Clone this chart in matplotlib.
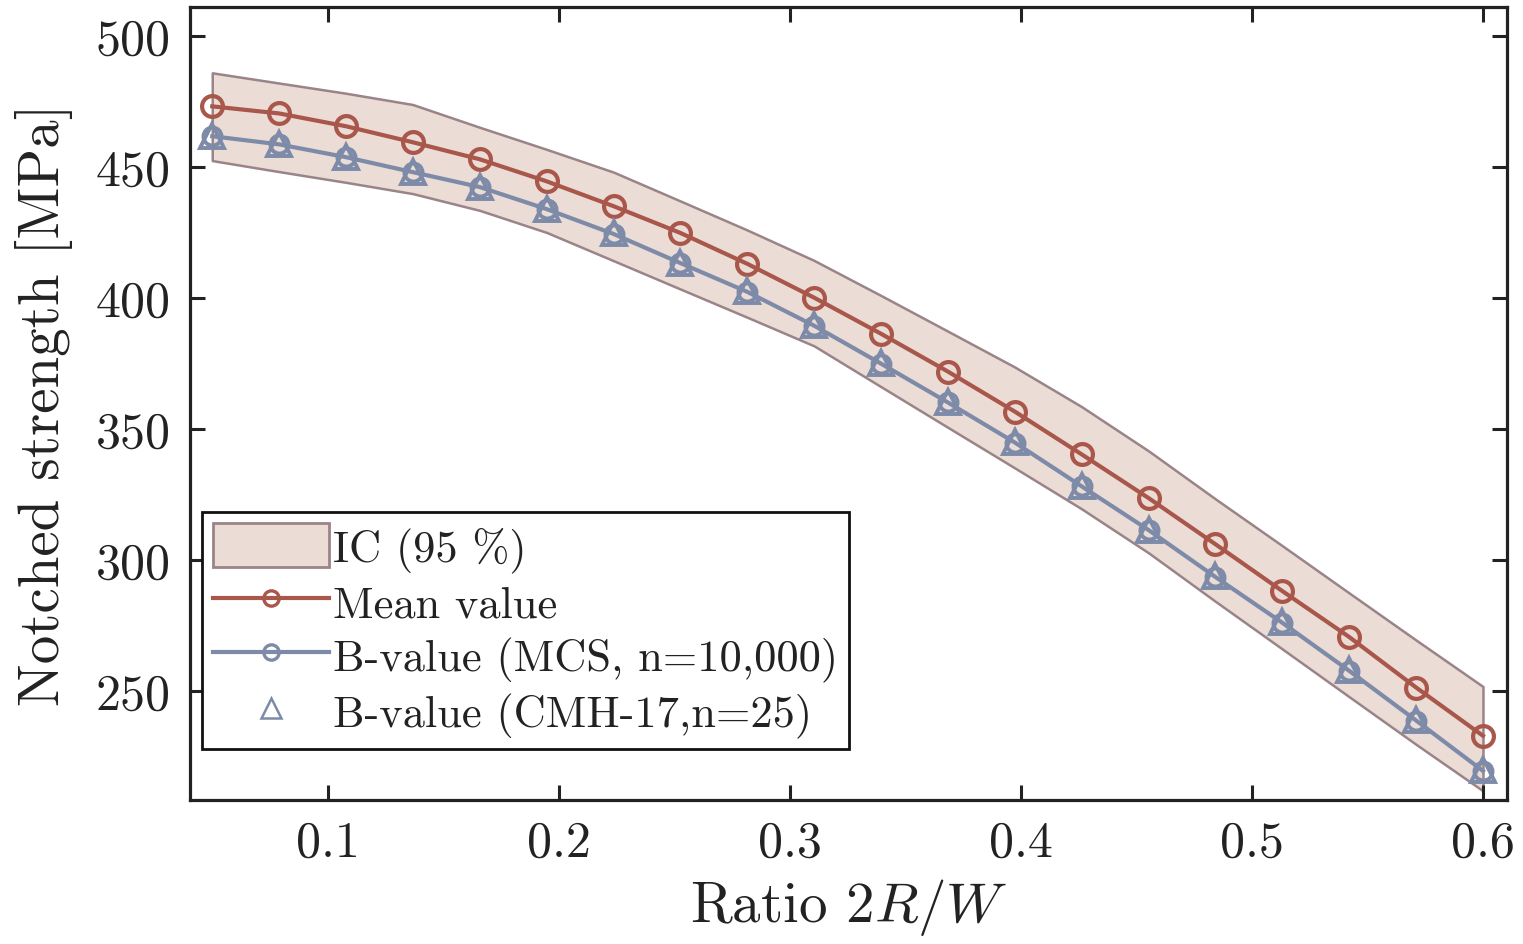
import matplotlib
matplotlib.use('Agg')
import numpy as np
from matplotlib import pyplot as plt
from matplotlib.patches import Patch
from matplotlib.lines import Line2D

# Данные
ratio = [0.05, 0.0789, 0.1079, 0.1368, 0.1658, 0.1947, 0.2237, 0.2526, 0.2816, 0.3105,
         0.3395, 0.3684, 0.3974, 0.4263, 0.4553, 0.4842, 0.5132, 0.5421, 0.5711, 0.60]
mean_value = [473.0, 470.3, 465.4, 459.3, 452.8, 444.4, 434.9, 424.7, 412.9, 400.0,
              386.2, 371.8, 356.5, 340.2, 323.5, 305.9, 288.0, 270.5, 251.2, 232.8]
b_value_mcs = [461.6, 458.5, 453.6, 447.9, 442.2, 433.8, 424.3, 413.2, 402.2, 389.3,
               374.8, 360.0, 344.7, 328.0, 311.3, 293.4, 275.9, 257.6, 238.6, 219.4]
b_value_cmh = [461.8, 458.6, 453.8, 448.1, 442.4, 434.0, 424.5, 413.4, 402.4, 389.5,
               375.0, 360.2, 344.9, 328.2, 311.5, 293.6, 276.1, 257.8, 238.8, 219.6]
ic_upper = [485.8, 481.9, 478.0, 473.7, 465.0, 456.6, 447.9, 436.9, 425.8, 414.2,
            400.8, 387.2, 373.5, 358.4, 341.5, 323.2, 305.3, 287.3, 269.3, 251.6]
ic_lower = [452.3, 448.1, 444.0, 439.7, 433.3, 424.9, 414.1, 403.3, 392.5, 381.6,
            366.0, 350.5, 335.0, 319.4, 302.6, 284.1, 265.9, 247.7, 229.5, 211.8]

x_ticks = [0.1, 0.2, 0.3, 0.4, 0.5, 0.6]
y_ticks = [250, 300, 350, 400, 450, 500]

red = '#A9564B'
blue = '#7E8BA8'
band_fill = '#EBDCD6'
band_edge = '#9A8488'

plt.rcParams['font.family'] = ['cmr10', 'DejaVu Serif']
plt.rcParams['mathtext.fontset'] = 'cm'
plt.rcParams['axes.unicode_minus'] = False

fig = plt.figure(figsize=(15.23, 9.45), dpi=100)
ax = fig.add_axes([0.1248, 0.1524, 0.8647, 0.8391])

ax.fill_between(ratio, ic_lower, ic_upper, facecolor=band_fill, edgecolor=band_edge,
                linewidth=1.8, zorder=1)
ax.plot(ratio, mean_value, color=red, linewidth=3.0, marker='o', markersize=15,
        markerfacecolor='none', markeredgewidth=3.0, zorder=3)
ax.plot(ratio, b_value_mcs, color=blue, linewidth=3.0, marker='o', markersize=13,
        markerfacecolor='none', markeredgewidth=2.8, zorder=4)
ax.plot(ratio, b_value_cmh, linestyle='none', color=blue, marker='^', markersize=17,
        markerfacecolor='none', markeredgewidth=2.8, zorder=5)

ax.set_xlim(0.0404, 0.6104)
ax.set_ylim(208.3, 510.9)
ax.set_xticks(x_ticks)
ax.set_xticklabels([f'{t:.1f}' for t in x_ticks])
ax.set_yticks(y_ticks)
ax.set_yticklabels([str(t) for t in y_ticks])

ax.tick_params(direction='in', length=11, width=2.2, top=True, right=True,
               labelsize=36, colors='#222222', pad=14)
for s in ax.spines.values():
    s.set_linewidth(2.3)
    s.set_color('#222222')

ax.set_xlabel('Ratio $2R/W$', fontsize=41, color='#222222', labelpad=8)
ax.set_ylabel('Notched strength [MPa]', fontsize=41, color='#222222', labelpad=16)

handles = [
    Patch(facecolor=band_fill, edgecolor=band_edge, linewidth=2.0),
    Line2D([], [], color=red, linewidth=3.0, marker='o', markersize=11,
           markerfacecolor='none', markeredgewidth=2.4),
    Line2D([], [], color=blue, linewidth=3.0, marker='o', markersize=11,
           markerfacecolor='none', markeredgewidth=2.4),
    Line2D([], [], linestyle='none', color=blue, marker='^', markersize=14,
           markerfacecolor='none', markeredgewidth=1.8),
]
labels = ['IC (95 %)', 'Mean value', 'B-value (MCS, n=10,000)', 'B-value (CMH-17,n=25)']
leg = ax.legend(handles, labels, loc='lower left', bbox_to_anchor=(0.009, 0.064),
                borderaxespad=0, fontsize=32, frameon=True, fancybox=False,
                edgecolor='#111111', framealpha=1, handlelength=2.6,
                handleheight=1.15, handletextpad=0.1, labelspacing=0.17,
                borderpad=0.25)
leg.get_frame().set_linewidth(2.0)
for t in leg.get_texts():
    t.set_color('#222222')

fig.savefig('out.png', dpi=100)
